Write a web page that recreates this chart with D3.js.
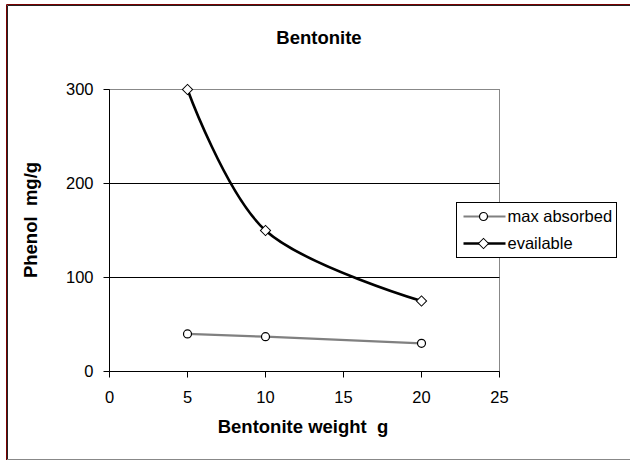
<!DOCTYPE html>
<html>
<head>
<meta charset="utf-8">
<script src="https://cdn.jsdelivr.net/npm/d3@7"></script>
<style>
  body { margin: 0; background: #fff; overflow: hidden; }
  svg { display: block; }
  text { font-family: "Liberation Sans", Arial, sans-serif; fill: #000; }
  .tick text { font-size: 16.5px; }
  .title, .axis-label { font-size: 18.5px; font-weight: bold; }
</style>
</head>
<body>
<svg width="630" height="461"></svg>
<script>
// Bentonite dose vs phenol uptake
const weights = [5, 10, 20];
const maxAbsorbed = [40, 37, 30];
const available = [300, 150, 75];
const seriesNames = ['max absorbed', 'evailable'];
const xTicks = [0, 5, 10, 15, 20, 25];
const yTicks = [0, 100, 200, 300];

const svg = d3.select('svg');
const width = +svg.attr('width');
const height = +svg.attr('height');

// outer chart frame: dark red + black on top/left, grey at the bottom
svg.append('path')
  .attr('d', `M6.5,${height - 1} V4.5 H${width}`)
  .attr('fill', 'none')
  .attr('stroke', '#7a0000');
svg.append('path')
  .attr('d', `M7.5,${height - 1} V5.5 H${width}`)
  .attr('fill', 'none')
  .attr('stroke', '#222');
svg.append('line')
  .attr('x1', 7).attr('x2', width)
  .attr('y1', 459.5).attr('y2', 459.5)
  .attr('stroke', '#888');

const margin = {top: 89.5, left: 109.5};
const innerWidth = 390;
const innerHeight = 282;

const xScale = d3.scaleLinear().domain([0, 25]).range([0, innerWidth]);
const yScale = d3.scaleLinear().domain([0, 300]).range([innerHeight, 0]);

const g = svg.append('g')
  .attr('transform', `translate(${margin.left},${margin.top})`);

// plot area border (grey)
g.append('rect')
  .attr('width', innerWidth).attr('height', innerHeight)
  .attr('fill', 'none')
  .attr('stroke', '#888');

// horizontal gridlines
g.selectAll('.grid').data(yTicks.filter(d => d > 0 && d < 300))
  .enter().append('line')
    .attr('class', 'grid')
    .attr('x1', 0).attr('x2', innerWidth)
    .attr('y1', d => Math.round(yScale(d))).attr('y2', d => Math.round(yScale(d)))
    .attr('stroke', '#000');

const yAxis = d3.axisLeft(yScale)
  .tickValues(yTicks)
  .tickSize(6)
  .tickSizeOuter(0)
  .tickPadding(10)
  .offset(0);
const yAxisGroup = g.append('g').call(yAxis);
yAxisGroup.select('.domain').attr('stroke', '#000');

const xAxis = d3.axisBottom(xScale)
  .tickValues(xTicks)
  .tickSize(6)
  .tickSizeOuter(0)
  .tickPadding(14)
  .offset(0);
const xAxisGroup = g.append('g')
  .attr('transform', `translate(0,${innerHeight})`)
  .call(xAxis);

g.selectAll('.tick line').attr('stroke', '#000');

// titles
svg.append('text')
  .attr('class', 'title')
  .attr('x', 319).attr('y', 44)
  .attr('text-anchor', 'middle')
  .text('Bentonite');

svg.append('text')
  .attr('class', 'axis-label')
  .attr('x', 303).attr('y', 433)
  .attr('text-anchor', 'middle')
  .attr('xml:space', 'preserve')
  .text('Bentonite weight  g');

svg.append('text')
  .attr('class', 'axis-label')
  .attr('transform', 'translate(37,220) rotate(-90)')
  .attr('text-anchor', 'middle')
  .attr('xml:space', 'preserve')
  .text('Phenol  mg/g');

// series
const absorbedData = weights.map((w, i) => ({x: w, y: maxAbsorbed[i]}));
const availableData = weights.map((w, i) => ({x: w, y: available[i]}));

const straight = d3.line()
  .x(d => xScale(d.x)).y(d => yScale(d.y));
const smooth = d3.line()
  .x(d => xScale(d.x)).y(d => yScale(d.y))
  .curve(d3.curveCardinal.tension(0));

g.append('path')
  .attr('d', straight(absorbedData))
  .attr('fill', 'none')
  .attr('stroke', '#808080')
  .attr('stroke-width', 2.2);

g.append('path')
  .attr('d', smooth(availableData))
  .attr('fill', 'none')
  .attr('stroke', '#000')
  .attr('stroke-width', 2.6);

const diamond = d3.symbol().type(d3.symbolSquare).size(52);

g.selectAll('.circ').data(absorbedData)
  .enter().append('circle')
    .attr('cx', d => xScale(d.x))
    .attr('cy', d => yScale(d.y))
    .attr('r', 4)
    .attr('fill', '#fff')
    .attr('stroke', '#000')
    .attr('stroke-width', 1.2);

g.selectAll('.diam').data(availableData)
  .enter().append('path')
    .attr('d', diamond)
    .attr('transform', d => `translate(${xScale(d.x)},${yScale(d.y)}) rotate(45)`)
    .attr('fill', '#fff')
    .attr('stroke', '#000')
    .attr('stroke-width', 1);

// legend
const legend = svg.append('g').attr('transform', 'translate(456.5,202.5)');
legend.append('rect')
  .attr('width', 160).attr('height', 55)
  .attr('fill', '#fff')
  .attr('stroke', '#000');

const legendRows = legend.selectAll('.row').data(seriesNames)
  .enter().append('g')
    .attr('transform', (d, i) => `translate(0,${14 + i * 27})`);

legendRows.append('line')
  .attr('x1', 7).attr('x2', 49)
  .attr('stroke', (d, i) => i === 0 ? '#808080' : '#000')
  .attr('stroke-width', (d, i) => i === 0 ? 2 : 2.6);

legendRows.each(function(d, i) {
  const row = d3.select(this);
  if (i === 0) {
    row.append('circle')
      .attr('cx', 27).attr('r', 4)
      .attr('fill', '#fff').attr('stroke', '#000').attr('stroke-width', 1.2);
  } else {
    row.append('path')
      .attr('d', diamond)
      .attr('transform', 'translate(27,0) rotate(45)')
      .attr('fill', '#fff').attr('stroke', '#000');
  }
});

legendRows.append('text')
  .attr('x', 51).attr('dy', '0.35em')
  .style('font-size', '16.5px')
  .text(d => d);
</script>
</body>
</html>
